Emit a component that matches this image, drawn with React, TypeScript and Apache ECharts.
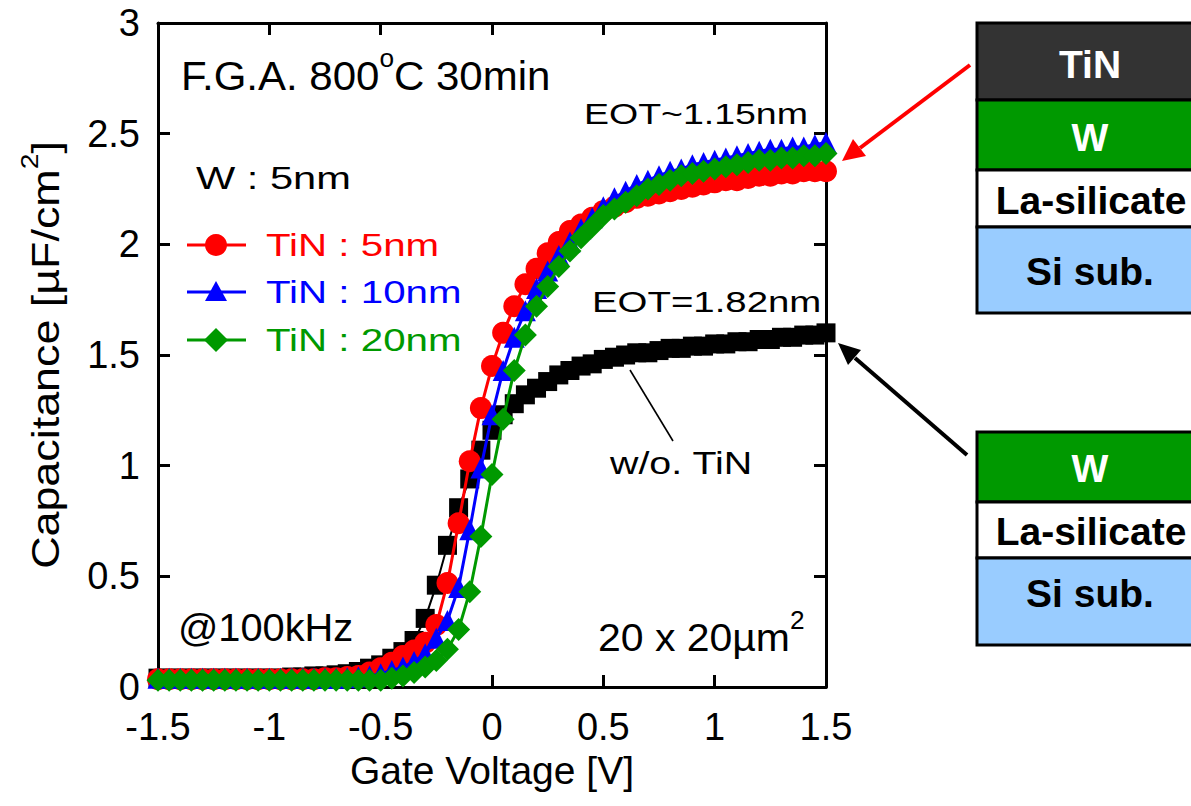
import React, { useEffect, useRef } from "react";
import * as echarts from "echarts";

const FONT = "'Liberation Sans', Arial, sans-serif";

// Gate voltage (V)
const volts = [
  -1.5, -1.45, -1.4, -1.35, -1.3, -1.25, -1.2, -1.15, -1.1, -1.05,
  -1.0, -0.95, -0.9, -0.85, -0.8, -0.75, -0.7, -0.65, -0.6, -0.55,
  -0.5, -0.45, -0.4, -0.35, -0.3, -0.25, -0.2, -0.15, -0.1, -0.05,
  0, 0.05, 0.1, 0.15, 0.2, 0.25, 0.3, 0.35, 0.4, 0.45,
  0.5, 0.55, 0.6, 0.65, 0.7, 0.75, 0.8, 0.85, 0.9, 0.95,
  1.0, 1.05, 1.1, 1.15, 1.2, 1.25, 1.3, 1.35, 1.4, 1.45, 1.5,
];

// Capacitance (uF/cm2)
const capNoTiN = [
  0.04, 0.04, 0.04, 0.04, 0.04, 0.04, 0.04, 0.04, 0.04, 0.04,
  0.04, 0.04, 0.045, 0.045, 0.05, 0.05, 0.055, 0.06, 0.07, 0.085,
  0.1, 0.13, 0.16, 0.21, 0.31, 0.46, 0.64, 0.81, 0.94, 1.07,
  1.16, 1.23, 1.28, 1.32, 1.35, 1.38, 1.41, 1.43, 1.45, 1.46,
  1.48, 1.49, 1.5, 1.51, 1.51, 1.52, 1.53, 1.53, 1.54, 1.54,
  1.55, 1.55, 1.56, 1.56, 1.57, 1.57, 1.58, 1.58, 1.59, 1.59, 1.6,
];
const capTiN5 = [
  0.035, 0.035, 0.035, 0.035, 0.035, 0.035, 0.035, 0.035, 0.035, 0.035,
  0.035, 0.035, 0.035, 0.035, 0.035, 0.04, 0.04, 0.045, 0.05, 0.065,
  0.085, 0.11, 0.14, 0.165, 0.2, 0.28, 0.47, 0.74, 1.02, 1.26,
  1.45, 1.6, 1.72, 1.82, 1.89, 1.96, 2.01, 2.06, 2.09, 2.12,
  2.15, 2.17, 2.19, 2.21, 2.22, 2.23, 2.24, 2.25, 2.26, 2.27,
  2.28, 2.29, 2.29, 2.3, 2.31, 2.31, 2.32, 2.32, 2.33, 2.33, 2.33,
];
const capTiN10 = [
  0.04, 0.04, 0.04, 0.04, 0.04, 0.04, 0.04, 0.04, 0.04, 0.04,
  0.04, 0.04, 0.04, 0.04, 0.04, 0.04, 0.04, 0.042, 0.045, 0.05,
  0.06, 0.075, 0.09, 0.115, 0.15, 0.22, 0.3, 0.45, 0.71, 0.99,
  1.23, 1.43, 1.58, 1.7, 1.8, 1.88, 1.95, 2.01, 2.07, 2.12,
  2.17, 2.21, 2.24, 2.27, 2.29, 2.31, 2.33, 2.34, 2.36, 2.37,
  2.38, 2.39, 2.4, 2.41, 2.42, 2.43, 2.43, 2.44, 2.44, 2.45, 2.46,
];
const capTiN20 = [
  0.03, 0.03, 0.03, 0.03, 0.03, 0.03, 0.03, 0.03, 0.03, 0.03,
  0.03, 0.03, 0.03, 0.03, 0.03, 0.03, 0.03, 0.03, 0.03, 0.03,
  0.03, 0.04, 0.05, 0.065, 0.09, 0.12, 0.17, 0.26, 0.43, 0.68,
  0.96, 1.21, 1.43, 1.59, 1.72, 1.81, 1.9, 1.97, 2.03, 2.08,
  2.13, 2.16, 2.19, 2.22, 2.25, 2.27, 2.29, 2.31, 2.32, 2.33,
  2.34, 2.35, 2.36, 2.37, 2.38, 2.38, 2.39, 2.39, 2.4, 2.4, 2.41,
];

const seriesNames = ["w/o. TiN", "TiN : 5nm", "TiN : 10nm", "TiN : 20nm"];
const seriesColors = ["#000000", "#ff0000", "#0000ff", "#009900"];

const pairs = (ys: number[]) => volts.map((v, i) => [v, ys[i]]);

export default function App() {
  const ref = useRef<HTMLDivElement>(null);
  useEffect(() => {
    document.body.style.margin = "0";
    if (!ref.current) return;
    const chart = echarts.init(ref.current, undefined, { renderer: "svg" });

    const txt = (
      text: string,
      x: number,
      y: number,
      size: number,
      color: string,
      opts: any = {}
    ) => ({
      type: "text",
      x,
      y,
      scaleX: opts.scaleX ?? 1,
      rotation: opts.rotation ?? 0,
      z: 100,
      style: {
        text,
        x: 0,
        y: 0,
        fill: color,
        font: `${opts.bold ? "bold " : ""}${size}px ${FONT}`,
        fontSize: size,
        fontWeight: opts.bold ? "bold" : "normal",
        fontFamily: FONT,
        align: opts.align ?? "left",
        verticalAlign: "middle",
        rich: opts.rich,
      },
    });

    const supRich = (size: number, supSize: number) => ({
      n: { fontSize: size, fontFamily: FONT, lineHeight: size * 1.5, fill: "#000" },
      s: { fontSize: supSize, fontFamily: FONT, lineHeight: supSize, verticalAlign: "top", fill: "#000" },
    });

    const legendItem = (idx: number, y: number, shape: any) => ({
      type: "group",
      children: [
        { type: "line", shape: { x1: 187, y1: y, x2: 246, y2: y }, style: { stroke: seriesColors[idx], lineWidth: 3 } },
        shape,
        txt(seriesNames[idx], 266, y, 31, seriesColors[idx], { scaleX: 1.3 }),
      ],
    });

    const layer = (x: number, y: number, h: number, fill: string) => ({
      type: "rect",
      shape: { x, y, width: 240, height: h },
      style: { fill, stroke: "#000", lineWidth: 3 },
    });

    const graphic: any[] = [
      // annotations inside plot
      txt("{n|F.G.A. 800}{s|o}{n|C 30min}", 181, 76, 40, "#000", { rich: supRich(40, 25), scaleX: 1.05 }),
      txt("EOT~1.15nm", 584, 113, 30, "#000", { scaleX: 1.25 }),
      txt("W : 5nm", 196, 178, 32, "#000", { scaleX: 1.3 }),
      txt("EOT=1.82nm", 592, 302, 30, "#000", { scaleX: 1.28 }),
      txt("w/o. TiN", 610, 464, 31, "#000", { scaleX: 1.27 }),
      txt("@100kHz", 178, 627, 39, "#000", { scaleX: 1.02 }),
      txt("{n|20 x 20\u00b5m}{s|2}", 598, 637, 39, "#000", { rich: supRich(39, 25), scaleX: 1.05 }),
      { type: "line", shape: { x1: 630, y1: 370, x2: 673, y2: 441 }, style: { stroke: "#000", lineWidth: 1.6 }, z: 100 },
      // legend
      legendItem(1, 245, { type: "circle", shape: { cx: 216, cy: 245, r: 11 }, style: { fill: seriesColors[1] } }),
      legendItem(2, 292, { type: "polygon", shape: { points: [[216, 281], [227, 301], [205, 301]] }, style: { fill: seriesColors[2] } }),
      legendItem(3, 340, { type: "polygon", shape: { points: [[216, 328], [228, 340], [216, 352], [204, 340]] }, style: { fill: seriesColors[3] } }),
      // right-side stacks
      layer(977, 23, 77, "#333333"),
      layer(977, 100, 70, "#009900"),
      layer(977, 170, 57, "#ffffff"),
      layer(977, 227, 86, "#99ccff"),
      txt("TiN", 1090, 64, 39, "#ffffff", { bold: true, align: "center" }),
      txt("W", 1090, 137, 39, "#ffffff", { bold: true, align: "center" }),
      txt("La-silicate", 1091, 200, 39, "#000", { bold: true, align: "center" }),
      txt("Si sub.", 1090, 271, 39, "#000", { bold: true, align: "center" }),
      layer(977, 432, 70, "#009900"),
      layer(977, 502, 56, "#ffffff"),
      layer(977, 558, 87, "#99ccff"),
      txt("W", 1090, 468, 39, "#ffffff", { bold: true, align: "center" }),
      txt("La-silicate", 1091, 531, 39, "#000", { bold: true, align: "center" }),
      txt("Si sub.", 1090, 593, 39, "#000", { bold: true, align: "center" }),
      // arrows
      { type: "line", shape: { x1: 970, y1: 65, x2: 860, y2: 148 }, style: { stroke: "#ff0000", lineWidth: 4 } },
      { type: "polygon", shape: { points: [[842, 161], [866, 156], [853, 139]] }, style: { fill: "#ff0000" } },
      { type: "line", shape: { x1: 967, y1: 455, x2: 855, y2: 358 }, style: { stroke: "#000", lineWidth: 4 } },
      { type: "polygon", shape: { points: [[838, 343], [861, 350], [848, 365]] }, style: { fill: "#000" } },
      // y axis title
      txt("{n|Capacitance [\u00b5F/cm}{s|2}{n|]}", 46, 355, 38, "#000", {
        rotation: Math.PI / 2,
        scaleX: 1.18,
        align: "center",
        rich: supRich(38, 24),
      }),
    ];

    const axisCommon = {
      type: "value",
      axisLine: { show: true, onZero: false, lineStyle: { color: "#000", width: 3 } },
      axisTick: { show: true, inside: true, length: 12, lineStyle: { color: "#000", width: 3 } },
      splitLine: { show: false },
    };

    const symbols = ["rect", "circle", "triangle", "diamond"];
    const sizes = [19, 22, 21, 23];
    const lineWidths = [2, 3, 3, 3];
    const datasets = [capNoTiN, capTiN5, capTiN10, capTiN20];

    chart.setOption({
      animation: false,
      backgroundColor: "#ffffff",
      grid: { left: 158, right: 365, top: 23, bottom: 119, containLabel: false },
      xAxis: [
        {
          ...axisCommon,
          min: -1.5,
          max: 1.5,
          interval: 0.5,
          position: "bottom",
          axisLabel: { color: "#000", fontSize: 38, fontFamily: FONT, margin: 21 },
          name: "Gate Voltage [V]",
          nameLocation: "middle",
          nameGap: 64,
          nameTextStyle: { color: "#000", fontSize: 39, fontFamily: FONT },
        },
        {
          ...axisCommon,
          min: -1.5,
          max: 1.5,
          interval: 0.5,
          position: "top",
          axisLabel: { show: false },
        },
      ],
      yAxis: [
        {
          ...axisCommon,
          min: 0,
          max: 3,
          interval: 0.5,
          position: "left",
          axisLabel: { color: "#000", fontSize: 38, fontFamily: FONT, margin: 18 },
        },
        {
          ...axisCommon,
          min: 0,
          max: 3,
          interval: 0.5,
          position: "right",
          axisLabel: { show: false },
        },
      ],
      series: datasets.map((d, i) => ({
        type: "line",
        name: seriesNames[i],
        data: pairs(d),
        symbol: symbols[i],
        symbolSize: sizes[i],
        showSymbol: true,
        clip: false,
        z: 2 + i,
        itemStyle: { color: seriesColors[i] },
        lineStyle: { color: seriesColors[i], width: lineWidths[i] },
      })),
      graphic,
    });
    return () => chart.dispose();
  }, []);
  return <div ref={ref} style={{ width: 1191, height: 806 }} />;
}
